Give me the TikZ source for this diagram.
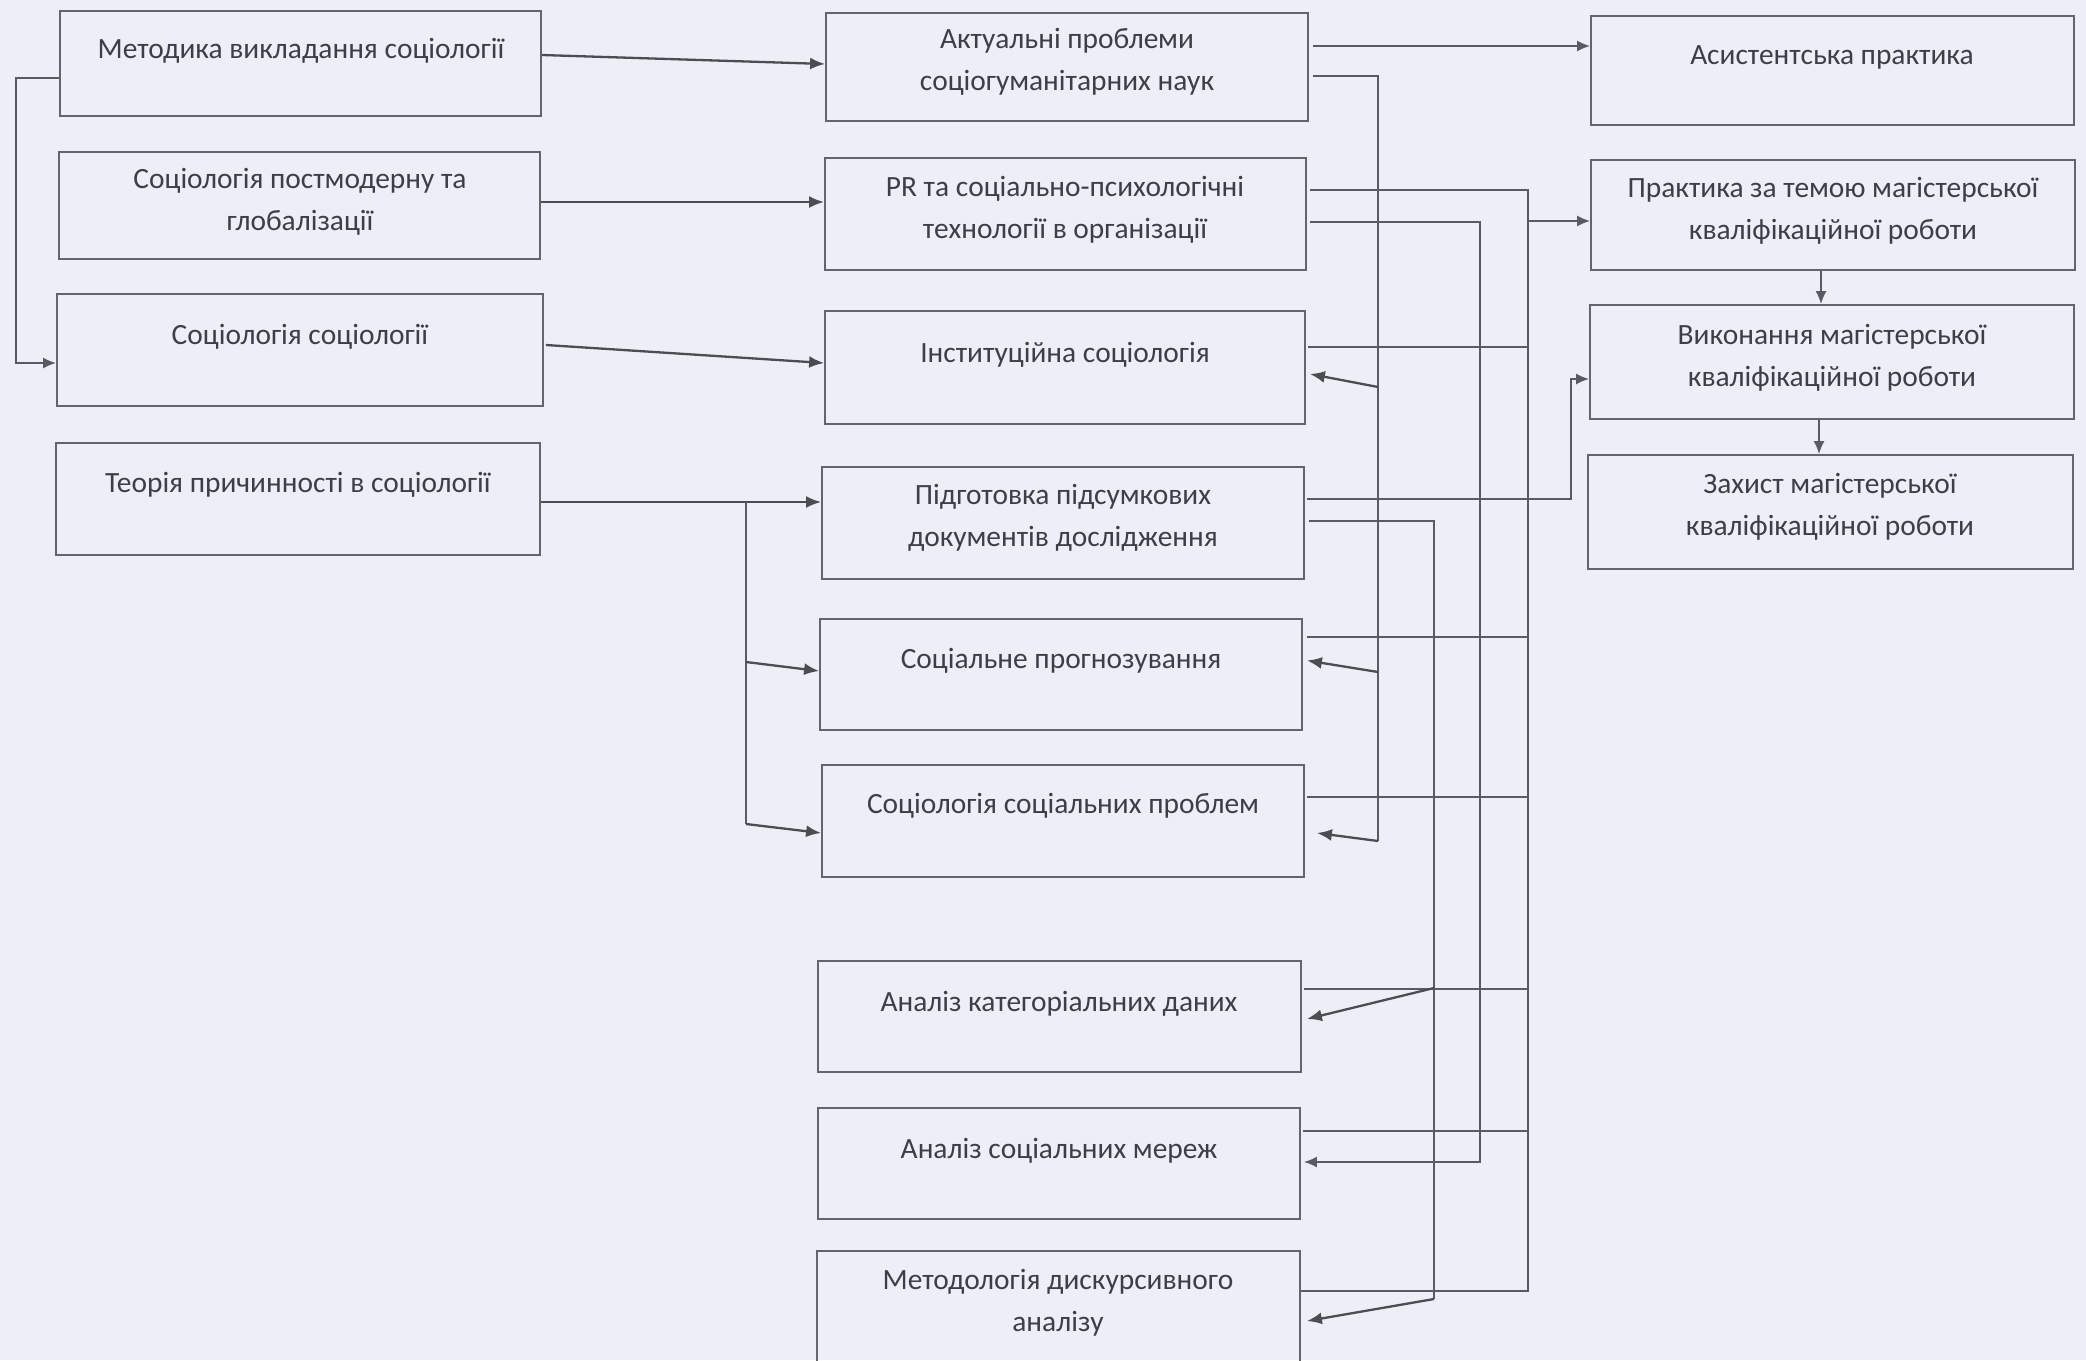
\documentclass[tikz,border=0pt]{standalone}
\usepackage{fontspec}
\setmainfont{Carlito}
\usetikzlibrary{arrows.meta,calc}
\definecolor{bg}{RGB}{238,238,246}
\definecolor{ink}{RGB}{62,62,70}
\definecolor{edgec}{RGB}{100,100,108}
\definecolor{wirec}{RGB}{90,90,98}
\begin{document}
\begin{tikzpicture}[x={(0.5pt,0)},y={(0,-0.5pt)},
 bx/.style 2 args={draw=edgec, line width=0.9pt, rectangle, inner sep=0pt,
   minimum width=#1*0.5pt, minimum height=#2*0.5pt},
 txt/.style={text=ink, font=\fontsize{14.7}{21}\selectfont, align=center, inner sep=0pt},
 wire/.style={draw=wirec, line width=0.9pt},
 warr/.style={draw=wirec, line width=0.9pt, -{Latex[length=6.5pt,width=5.5pt]}},
 arr/.style={draw=wirec!85!black, line width=1.15pt, -{Latex[length=7.5pt,width=6pt]}},
]
\useasboundingbox (0,0) rectangle (2086,1360);
\fill[bg] (0,0) rectangle (2086,1360);
\clip (0,0) rectangle (2086,1360);

% left column
\node[bx={481}{105}] (L1) at (300.5,63.5) {};
\node[bx={481}{107}] (L2) at (299.5,205.5) {};
\node[bx={486}{112}] (L3) at (300,350) {};
\node[bx={484}{112}] (L4) at (298,499) {};
% middle column
\node[bx={482}{108}] (M1) at (1067,67) {};
\node[bx={481}{112}] (M2) at (1065.5,214) {};
\node[bx={480}{113}] (M3) at (1065,367.5) {};
\node[bx={482}{112}] (M4) at (1063,523) {};
\node[bx={482}{111}] (M5) at (1061,674.5) {};
\node[bx={482}{112}] (M6) at (1063,821) {};
\node[bx={483}{111}] (M7) at (1059.5,1016.5) {};
\node[bx={482}{111}] (M8) at (1059,1163.5) {};
\node[bx={483}{118}] (M9) at (1058.5,1310) {};
% right column
\node[bx={483}{109}] (R1) at (1832.5,70.5) {};
\node[bx={484}{110}] (R2) at (1833,215) {};
\node[bx={484}{114}] (R3) at (1832,362) {};
\node[bx={485}{114}] (R4) at (1830.5,512) {};

% texts
\node[txt] (L1t) at (301,51) {Методика викладання соціології};
\node[txt] (L2t) at (300,201.5) {Соціологія постмодерну та\\глобалізації};
\node[txt] (L3t) at (300,337) {Соціологія соціології};
\node[txt] (L4t) at (298,485) {Теорія причинності в соціології};
\node[txt] (M1t) at (1067,62) {Актуальні проблеми\\соціогуманітарних наук};
\node[txt] (M2t) at (1065,210) {PR та соціально-психологічні\\технології в організації};
\node[txt] (M3t) at (1065,355) {Інституційна соціологія};
\node[txt] (M4t) at (1063,518) {Підготовка підсумкових\\документів дослідження};
\node[txt] (M5t) at (1061,661) {Соціальне прогнозування};
\node[txt] (M6t) at (1063,806) {Соціологія соціальних проблем};
\node[txt] (M7t) at (1059,1004) {Аналіз категоріальних даних};
\node[txt] (M8t) at (1059,1151) {Аналіз соціальних мереж};
\node[txt] (M9t) at (1058,1303) {Методологія дискурсивного\\аналізу};
\node[txt] (R1t) at (1832,57) {Асистентська практика};
\node[txt] (R2t) at (1833,211) {Практика за темою магістерської\\кваліфікаційної роботи};
\node[txt] (R3t) at (1832,358) {Виконання магістерської\\кваліфікаційної роботи};
\node[txt] (R4t) at (1830,507) {Захист магістерської\\кваліфікаційної роботи};

% left -> middle
\draw[arr] ($(L1.east)+(0,-8.5)$) -- ($(M1.west)+(0,-3)$);
\draw[arr] ($(L2.east)+(0,-3.5)$) -- ($(M2.west)+(0,-12)$);
\draw[arr] ($(L3.east)+(2,-5)$) -- ($(M3.west)+(0,-4.5)$);
\draw[arr] ($(L4.east)+(0,3)$) -- ($(M4.west)+(0,-21)$);
% feedback L1 -> L3
\draw[warr] ($(L1.west)+(0,14.5)$) -- ++(-43,0) |- ($(L3.west)+(0,13)$);
% branch from L4 line
\coordinate (Bt) at (746,502);
\coordinate (B5) at (746,662);
\coordinate (Bb) at (746,824);
\draw[wire] (Bt) -- (Bb);
\draw[arr] (B5) -- ($(M5.west)+(0,-3.5)$);
\draw[arr] (Bb) -- ($(M6.west)+(0,12)$);

% M1 -> R1
\draw[warr] ($(M1.east)+(4,-21)$) -- ($(R1.west)+(0,-24.5)$);
% bus V1
\coordinate (V1t) at (1378,76);
\coordinate (V1a) at (1378,387);
\coordinate (V1c) at (1378,672);
\coordinate (V1b) at (1378,841);
\draw[wire] ($(M1.east)+(4,9)$) -- (V1t) -- (V1b);
\draw[arr] (V1a) -- ($(M3.east)+(4,6.5)$);
\draw[arr] (V1c) -- ($(M5.east)+(4,-14)$);
\draw[arr] (V1b) -- ($(M6.east)+(12,12)$);

% bus V3 -> R2
\coordinate (V3t) at (1528,190);
\coordinate (V3r) at (1528,221);
\coordinate (V3b) at (1528,1291);
\draw[wire] ($(M2.east)+(3,-24)$) -- (V3t) -- (V3b) -- ($(M9.east)+(0,-19)$);
\draw[wire] ($(M3.east)+(2,-20.5)$) -| (V3t);
\draw[wire] ($(M5.east)+(4,-37.5)$) -| (V3t);
\draw[wire] ($(M6.east)+(2,-24)$) -| (V3t);
\draw[wire] ($(M7.east)+(2,-27.5)$) -| (V3t);
\draw[wire] ($(M8.east)+(2,-32.5)$) -| (V3t);
\draw[warr] (V3r) -- ($(R2.west)+(0,6)$);

% M4 -> R3
\draw[warr] ($(M4.east)+(2,-24)$) -- ++(264,0) |- ($(R3.west)+(0,17)$);

% bus V2 -> M8
\coordinate (V2b) at (1480,1162);
\draw[warr] ($(M2.east)+(3,8)$) -| (V2b) -- ($(M8.east)+(3,-1.5)$);

% bus V4
\coordinate (V4a) at (1434,988);
\coordinate (V4b) at (1434,1299);
\draw[wire] ($(M4.east)+(4,-2)$) -| (V4b);
\draw[arr] (V4a) -- ($(M7.east)+(5,2.5)$);
\draw[arr] (V4b) -- ($(M9.east)+(6,11)$);

% right column chain
\draw[warr] ($(R2.south)+(-12,0)$) -- ($(R3.north)+(-11,0)$);
\draw[warr] ($(R3.south)+(-13,0)$) -- ($(R4.north)+(-11.5,0)$);
\end{tikzpicture}
\end{document}
